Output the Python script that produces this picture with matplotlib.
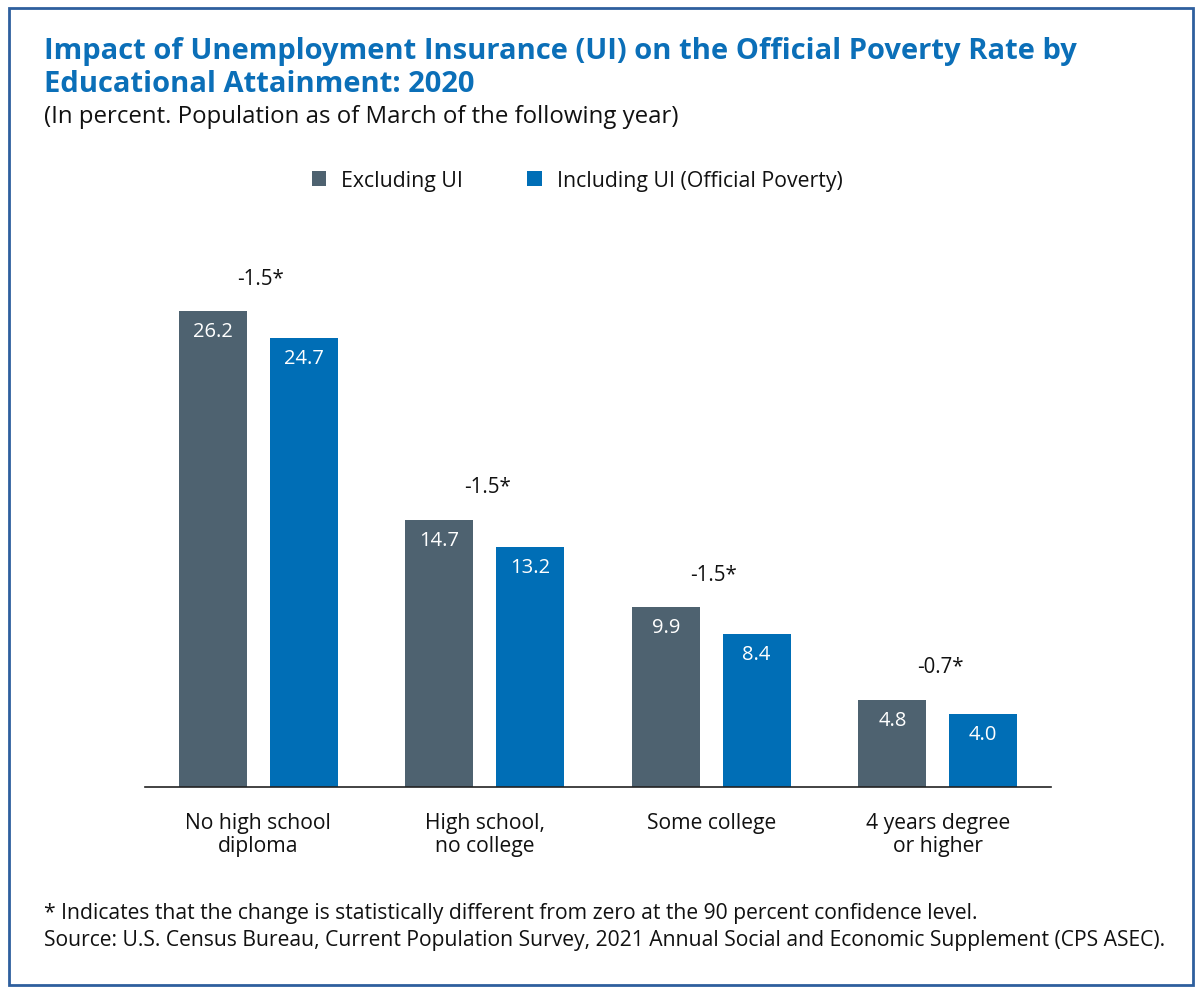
import matplotlib
matplotlib.use("Agg")
import matplotlib.pyplot as plt
from matplotlib.patches import Rectangle
import numpy as np

categories = ["No high school\ndiploma", "High school,\nno college", "Some college", "4 years degree\nor higher"]
excluding_ui = [26.2, 14.7, 9.9, 4.8]
including_ui = [24.7, 13.2, 8.4, 4.0]
differences = ["-1.5*", "-1.5*", "-1.5*", "-0.7*"]
series_names = ["Excluding UI", "Including UI (Official Poverty)"]

GRAY = "#4E6270"
BLUE = "#006EB6"
TITLE_BLUE = "#0B6FB8"
FONT = ["Open Sans", "DejaVu Sans"]

plt.rcParams["font.family"] = FONT

fig = plt.figure(figsize=(12, 9.95), dpi=100)
W, H = 1200, 995

def fx(px):
    return px / W

def fy(py):
    return 1 - py / H

ax = fig.add_axes([fx(145), fy(788), fx(1051) - fx(145), fy(243) - fy(788)])
x = np.arange(len(categories))
w = 0.3
off = 0.2
b1 = ax.bar(x - off, excluding_ui, w, color=GRAY, label=series_names[0])
b2 = ax.bar(x + off, including_ui, w, color=BLUE, label=series_names[1])
ax.set_xlim(-0.5, len(categories) - 0.5)
ax.set_ylim(0, 30)
for s in ["top", "right", "left"]:
    ax.spines[s].set_visible(False)
ax.spines["bottom"].set_color("#222222")
ax.spines["bottom"].set_linewidth(1.2)
ax.set_yticks([])
ax.set_xticks(x)
ax.set_xticklabels(categories, fontsize=15.2, color="#111111", linespacing=1.1)
ax.tick_params(axis="x", length=0, pad=18)

for bars in (b1, b2):
    for r in bars:
        v = r.get_height()
        ax.annotate(f"{v:.1f}", (r.get_x() + r.get_width() / 2, v), xytext=(0, -20),
                    textcoords="offset pixels", ha="center", va="center",
                    color="white", fontsize=14.5, fontweight="medium")

for i, d in enumerate(differences):
    ax.annotate(d, (x[i] + 0.01, excluding_ui[i]), xytext=(0, 33),
                textcoords="offset pixels", ha="center", va="center",
                color="#111111", fontsize=14.8)

# Title and subtitle
fig.text(fx(44), fy(52), "Impact of Unemployment Insurance (UI) on the Official Poverty Rate by",
         fontsize=21, fontweight="bold", color=TITLE_BLUE, ha="left", va="center")
fig.text(fx(44), fy(84), "Educational Attainment: 2020",
         fontsize=21, fontweight="bold", color=TITLE_BLUE, ha="left", va="center")
fig.text(fx(44), fy(117), "(In percent. Population as of March of the following year)",
         fontsize=17.3, color="#111111", ha="left", va="center")

# Legend
leg = fig.legend(handles=[b1, b2], labels=series_names, loc="center",
                 bbox_to_anchor=(fx(577), fy(181)), ncol=2, frameon=False,
                 fontsize=15.3, handlelength=0.7, handleheight=0.7,
                 handletextpad=0.7, columnspacing=3.0)
for t in leg.get_texts():
    t.set_color("#111111")

# Footnotes
fig.text(fx(44), fy(913), "* Indicates that the change is statistically different from zero at the 90 percent confidence level.",
         fontsize=15.2, color="#111111", ha="left", va="center")
fig.text(fx(44), fy(941), "Source: U.S. Census Bureau, Current Population Survey, 2021 Annual Social and Economic Supplement (CPS ASEC).",
         fontsize=15.2, color="#111111", ha="left", va="center")

# Border
fig.patches.append(Rectangle((fx(9), fy(986)), fx(1193) - fx(9), fy(9) - fy(986),
                             transform=fig.transFigure, fill=False,
                             edgecolor="#2E5F9E", linewidth=2))

fig.savefig("out.png", dpi=100)
